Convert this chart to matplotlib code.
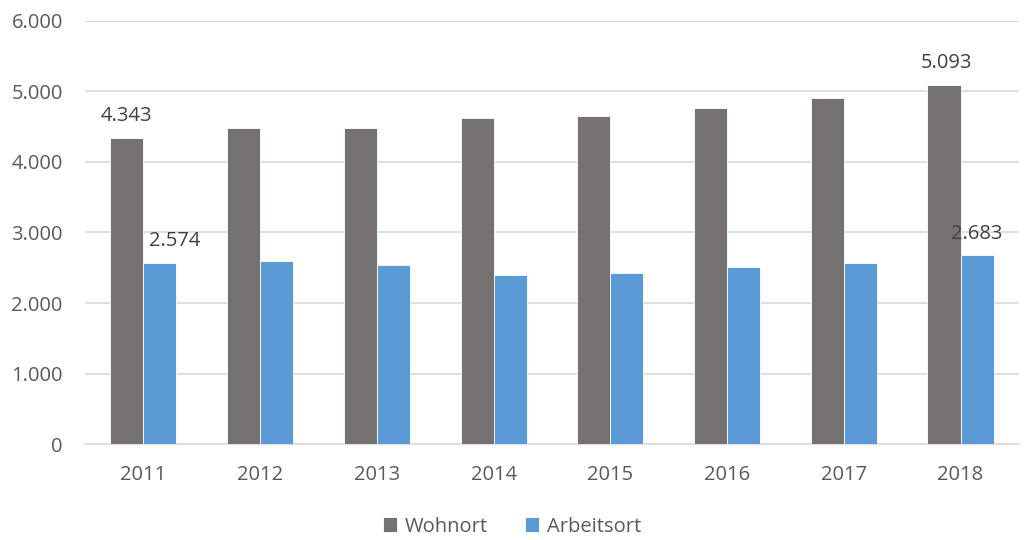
import matplotlib
matplotlib.use("Agg")
import matplotlib.pyplot as plt
import numpy as np

years = ["2011", "2012", "2013", "2014", "2015", "2016", "2017", "2018"]
wohnort = [4343, 4480, 4480, 4626, 4646, 4759, 4909, 5093]
arbeitsort = [2574, 2601, 2535, 2398, 2431, 2507, 2564, 2683]
yticks = [0, 1000, 2000, 3000, 4000, 5000, 6000]

def fmt(v):
    return f"{v:,}".replace(",", ".")

plt.rcParams['font.family'] = ['Open Sans', 'DejaVu Sans']
txt = '#595959'
fs = 14.5

fig = plt.figure(figsize=(10.24, 5.4), dpi=100)
ax = fig.add_axes([0.083, 0.177, 0.912, 0.785])

x = np.arange(len(years))
w = 0.283
ax.bar(x - w/2, wohnort, w, color='#767171', label='Wohnort', zorder=3,
       edgecolor='white', linewidth=0.6)
ax.bar(x + w/2, arbeitsort, w, color='#5B9BD5', label='Arbeitsort', zorder=3,
       edgecolor='white', linewidth=0.6)

ax.set_xlim(-0.5, len(years) - 0.5)
ax.set_ylim(0, 6000)
ax.set_yticks(yticks)
ax.set_yticklabels([fmt(v) for v in yticks])
ax.set_xticks(x)
ax.set_xticklabels(years)
ax.tick_params(axis='both', length=0, labelsize=fs, colors=txt)
ax.tick_params(axis='y', pad=16)
ax.tick_params(axis='x', pad=15)
ax.grid(axis='y', color='#D9D9D9', linewidth=1.2, zorder=0)
for s in ['top', 'right', 'left']:
    ax.spines[s].set_visible(False)
ax.spines['bottom'].set_color('#D9D9D9')
ax.spines['bottom'].set_linewidth(1.2)

labels = [(0, wohnort[0], -w/2, 0), (0, arbeitsort[0], w/2, 11),
          (7, wohnort[7], -w/2, 2), (7, arbeitsort[7], w/2, 0)]
for i, v, dx, ox in labels:
    ax.annotate(fmt(v), (i + dx, v), xytext=(ox, 8), textcoords='offset points',
                ha='center', va='bottom', fontsize=fs, color='#404040')

leg = fig.legend(loc='center', bbox_to_anchor=(0.5, 0.025), ncol=2, frameon=False,
                 fontsize=fs, handlelength=0.7, handleheight=0.7, columnspacing=1.8,
                 handletextpad=0.4, borderaxespad=0, borderpad=0)
for t in leg.get_texts():
    t.set_color(txt)

fig.savefig('out.png', dpi=100)
